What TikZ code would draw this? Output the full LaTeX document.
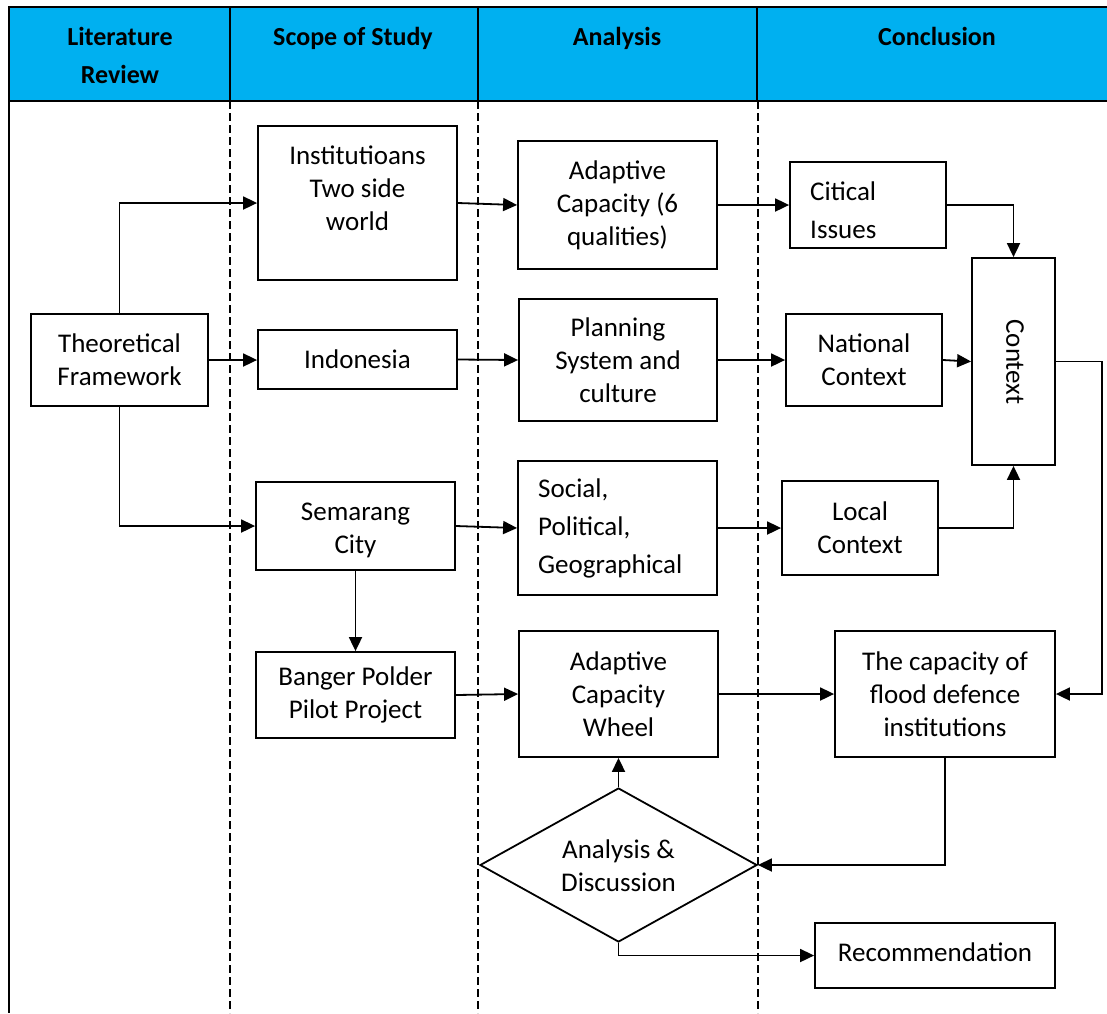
\documentclass[tikz,border=0pt]{standalone}
\usepackage{fontspec}
\setmainfont{Carlito}
\usetikzlibrary{arrows.meta,shapes.geometric}
\definecolor{headcyan}{HTML}{00B0F0}
\begin{document}
\begin{tikzpicture}[x=1pt,y=-1pt,
  box/.style={draw, line width=1.8pt, inner sep=0pt, align=center, font=\fontsize{27}{33}\selectfont},
  txt/.style={inner sep=0pt, align=center, font=\fontsize{27}{33}\selectfont},
  head/.style={inner sep=0pt, align=center, font=\fontsize{26}{38}\selectfont\bfseries},
  arr/.style={line width=1.8pt, -{Triangle[length=14pt,width=13pt]}},
  lane/.style={line width=1.3pt, dash pattern=on 8pt off 4pt}]
\useasboundingbox (0,0) rectangle (1107,1013);
% header
\fill[headcyan] (9,7) rectangle (1107,101);
\draw[line width=1.8pt] (1107,7) -- (9,7) -- (9,1013);
\draw[line width=1.8pt] (9,101) -- (1107,101);
\foreach \xx in {230,478,757} \draw[line width=1.8pt] (\xx,7) -- (\xx,101);
\foreach \xx in {230,478,758} \draw[lane] (\xx,101) -- (\xx,1013);
\node[head] (h1) at (120,55) {Literature\\Review};
\node[head, anchor=base] (h2) at (353,45) {Scope of Study};
\node[head, anchor=base] (h3) at (617,45) {Analysis};
\node[head, anchor=base] (h4) at (937,45) {Conclusion};
% boxes
\node[box, minimum width=177pt, minimum height=92pt] (tf) at (119.5,360) {Theoretical\\Framework};
\node[box, minimum width=199pt, minimum height=154pt] (inst) at (357.5,203) {};
\node[txt] (instt) at (357.5,188) {Institutioans\\Two side\\world};
\node[box, minimum width=199pt, minimum height=59pt] (indo) at (357.5,359.5) {Indonesia};
\node[box, minimum width=199pt, minimum height=88pt] (sem) at (355.5,526) {};
\node[txt] (semt) at (355.5,530) {Semarang\\City};
\node[box, minimum width=199pt, minimum height=86pt] (bang) at (355.5,695) {Banger Polder\\Pilot Project};
\node[box, minimum width=199pt, minimum height=128pt] (acap) at (617.5,205) {Adaptive\\Capacity (6\\qualities)};
\node[box, minimum width=198pt, minimum height=122pt] (plan) at (618,360) {Planning\\System and\\culture};
\node[box, minimum width=199pt, minimum height=134pt] (soc) at (617.5,528) {};
\node[txt, anchor=west, align=left, font=\fontsize{27}{38}\selectfont] (soct) at (538,528) {Social,\\Political,\\Geographical};
\node[box, minimum width=199pt, minimum height=126pt] (acw) at (618.5,694) {Adaptive\\Capacity\\Wheel};
\node[draw, diamond, line width=1.8pt, inner sep=0pt, minimum width=277pt, minimum height=154pt] (dia) at (618.5,865) {};
\node[txt] (diat) at (618.5,866) {Analysis \&\\Discussion};
\node[box, minimum width=156pt, minimum height=86pt] (crit) at (868,205) {};
\node[txt, anchor=west, align=left, font=\fontsize{27}{38}\selectfont] (critt) at (810,210) {Citical\\Issues};
\node[box, minimum width=156pt, minimum height=92pt] (nat) at (864,360) {National\\Context};
\node[box, minimum width=156pt, minimum height=94pt] (loc) at (860,528) {Local\\Context};
\node[box, minimum width=83pt, minimum height=207pt] (ctx) at (1013.5,361.5) {};
\node[txt, rotate=-90] (ctxt) at (1015,362) {Context};
\node[box, minimum width=220pt, minimum height=126pt] (cap) at (945,694) {The capacity of\\flood defence\\institutions};
\node[box, minimum width=240pt, minimum height=65pt] (rec) at (935,955.5) {};
\node[txt] (rect) at (935,952) {Recommendation};
% connectors
\draw[arr] (tf.north) |- (inst.west);
\draw[arr] (tf.east) -- (tf.east -| indo.west);
\draw[arr] (tf.south) |- (sem.west);
\draw[arr] (sem.south) -- (bang.north);
\draw[arr] (inst.east) -- (acap.west);
\draw[arr] (indo.east) -- (plan.west);
\draw[arr] (sem.east) -- (soc.west);
\draw[arr] (bang.east) -- (acw.west);
\draw[arr] (acap.east) -- (crit.west);
\draw[arr] (plan.east) -- (nat.west);
\draw[arr] (soc.east) -- (loc.west);
\draw[arr] (crit.east) -| (ctx.north);
\draw[arr] (nat.east) -- (ctx.west);
\draw[arr] (loc.east) -| (ctx.south);
\coordinate (ctxr) at (1102,361.5);
\draw[arr] (ctx.east) -- (ctxr) |- (cap.east);
\draw[arr] (acw.east) -- (cap.west);
\draw[arr] (cap.south) |- (dia.east);
\draw[arr] (dia.north) -- (acw.south);
\draw[arr] (dia.south) |- (rec.west);
\end{tikzpicture}
\end{document}
